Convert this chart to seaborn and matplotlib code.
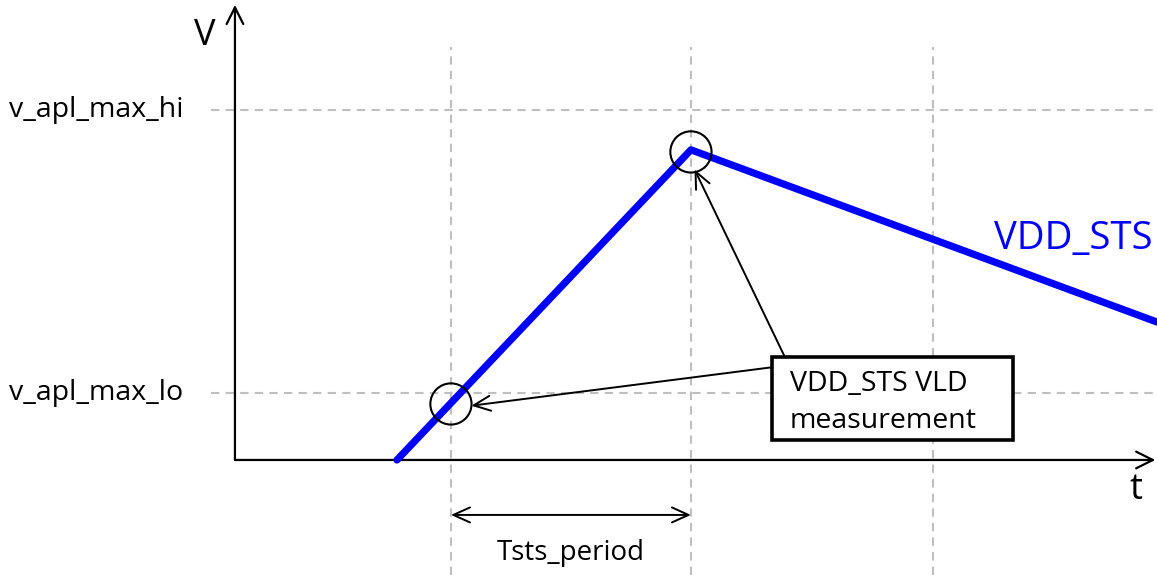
import matplotlib
matplotlib.use("Agg")
import matplotlib.pyplot as plt
from matplotlib.patches import Rectangle
import seaborn as sns
import pandas as pd

sns.set_theme(style="white")
plt.rcParams['font.family'] = ['Open Sans', 'DejaVu Sans']

# data (time units, voltage units)
sig_t = [0.675, 1.90, 3.842]
sig_v = [0.0, 0.886, 0.394]
grid_t = [0.90, 1.90, 2.91]
level_names = ["v_apl_max_hi", "v_apl_max_lo"]
level_v = [1.0, 0.19]
meas_t = [0.90, 1.90]
meas_v = [0.16, 0.88]

fig = plt.figure(figsize=(11.57, 5.75), dpi=100)
ax = fig.add_axes([0, 0, 1, 1])
ax.set_xlim(-0.979, 3.842)
ax.set_ylim(-0.3286, 1.314)
ax.axis("off")

gc = "#bfbfbf"
for gt in grid_t:
    ax.plot([gt, gt], [-0.33, 1.18], color=gc, lw=1.5, ls=(0, (4, 3)), zorder=1)
for lv in level_v:
    ax.plot([-0.10, 3.842], [lv, lv], color=gc, lw=1.5, ls=(0, (4, 3)), zorder=1)

# axes arrows
ax.annotate("", xy=(0, 1.30), xytext=(0, 0),
            arrowprops=dict(arrowstyle="->,head_length=1.0,head_width=0.5", lw=1.6, color="black", shrinkA=0, shrinkB=0), zorder=3)
ax.annotate("", xy=(3.835, 0), xytext=(0, 0),
            arrowprops=dict(arrowstyle="->,head_length=1.0,head_width=0.5", lw=1.6, color="black", shrinkA=0, shrinkB=0), zorder=3)

df = pd.DataFrame({"t": sig_t, "v": sig_v})
sns.lineplot(data=df, x="t", y="v", ax=ax, color="#0000ff", lw=5.2, sort=False, zorder=4)

mdf = pd.DataFrame({"t": meas_t, "v": meas_v})
sns.scatterplot(data=mdf, x="t", y="v", ax=ax, s=880, facecolor="none", edgecolor="black", linewidth=1.5, zorder=5)

# labels
for name, lv in zip(level_names, level_v):
    ax.text(-0.94, lv, name, fontsize=20.5, va="center", ha="left", color="black")
ax.text(-0.125, 1.21, "V", fontsize=26, va="center", ha="center", color="black")
ax.text(3.755, -0.086, "t", fontsize=26, va="center", ha="center", color="black")
ax.text(3.495, 0.63, "VDD_STS", fontsize=27.5, va="center", ha="center", color="#0000ff")

# measurement box and arrows
ax.annotate("", xy=(1.915, 0.83), xytext=(2.29, 0.296),
            arrowprops=dict(arrowstyle="->,head_length=1.0,head_width=0.45", lw=1.4, color="black", shrinkA=0, shrinkB=0), zorder=6)
ax.annotate("", xy=(0.985, 0.155), xytext=(2.24, 0.265),
            arrowprops=dict(arrowstyle="->,head_length=1.0,head_width=0.45", lw=1.4, color="black", shrinkA=0, shrinkB=0), zorder=6)
ax.add_patch(Rectangle((2.2375, 0.057), 1.0042, 0.237, facecolor="white", edgecolor="black", lw=2.6, zorder=7))
ax.text(2.3125, 0.218, "VDD_STS VLD", fontsize=20.5, va="center", ha="left", color="black", zorder=8)
ax.text(2.3125, 0.110, "measurement", fontsize=20.5, va="center", ha="left", color="black", zorder=8)

# period arrow
ax.annotate("", xy=(0.90, -0.157), xytext=(1.90, -0.157),
            arrowprops=dict(arrowstyle="<->,head_length=1.0,head_width=0.45", lw=1.4, color="black", shrinkA=0, shrinkB=0), zorder=6)
ax.text(1.40, -0.266, "Tsts_period", fontsize=20, va="center", ha="center", color="black")

fig.savefig("out.png", dpi=100)
